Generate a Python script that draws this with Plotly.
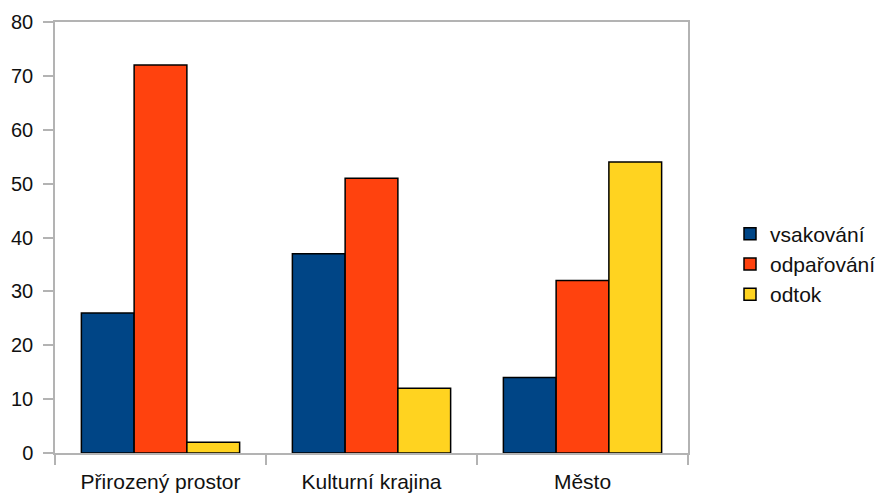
import plotly.graph_objects as go

categories = ["Přirozený prostor", "Kulturní krajina", "Město"]
vsakovani = [26, 37, 14]
odparovani = [72, 51, 32]
odtok = [2, 12, 54]

series = [
    ("vsakování", vsakovani, "#004586"),
    ("odpařování", odparovani, "#ff420e"),
    ("odtok", odtok, "#ffd320"),
]

fig = go.Figure()
for name, vals, color in series:
    fig.add_trace(go.Bar(
        x=categories, y=vals, name=name,
        marker=dict(color=color, line=dict(color="black", width=1.5)),
    ))

axis_color = "#b3b3b3"
font = dict(family="Liberation Sans, Arial, sans-serif", size=21, color="#111111")

# plot area spans 55..688 px of the 880 px canvas; legend sits to its right
left, right, top, bottom = 55, 0, 22, 40
plot_w = 880 - left - right
plot_h = 493 - top - bottom
dom_end = (688 - left) / plot_w

fig.update_layout(
    width=880, height=493,
    margin=dict(l=left, r=right, t=top, b=bottom, autoexpand=False),
    paper_bgcolor="white", plot_bgcolor="white",
    barmode="group", bargap=0.25, bargroupgap=0,
    font=font,
    showlegend=True,
    legend=dict(x=(730 - left) / plot_w, y=(453 - 264) / plot_h,
                xanchor="left", yanchor="middle",
                font=dict(size=21), itemwidth=30, tracegroupgap=0),
    xaxis=dict(
        domain=[0, dom_end],
        showline=True, linecolor=axis_color, linewidth=1.5, mirror=True,
        ticks="outside", tickson="boundaries", ticklen=10, tickcolor=axis_color,
        tickwidth=1.5, showgrid=False, tickfont=dict(size=21), ticklabelstandoff=9,
    ),
    yaxis=dict(
        range=[0, 80], dtick=10, showline=True, linecolor=axis_color, linewidth=1.5,
        mirror=True, ticks="outside", ticklen=10, tickcolor=axis_color, tickwidth=1.5,
        showgrid=False, zeroline=False, ticklabelstandoff=6, tickfont=dict(size=20),
    ),
)

fig.write_html("out.html")
